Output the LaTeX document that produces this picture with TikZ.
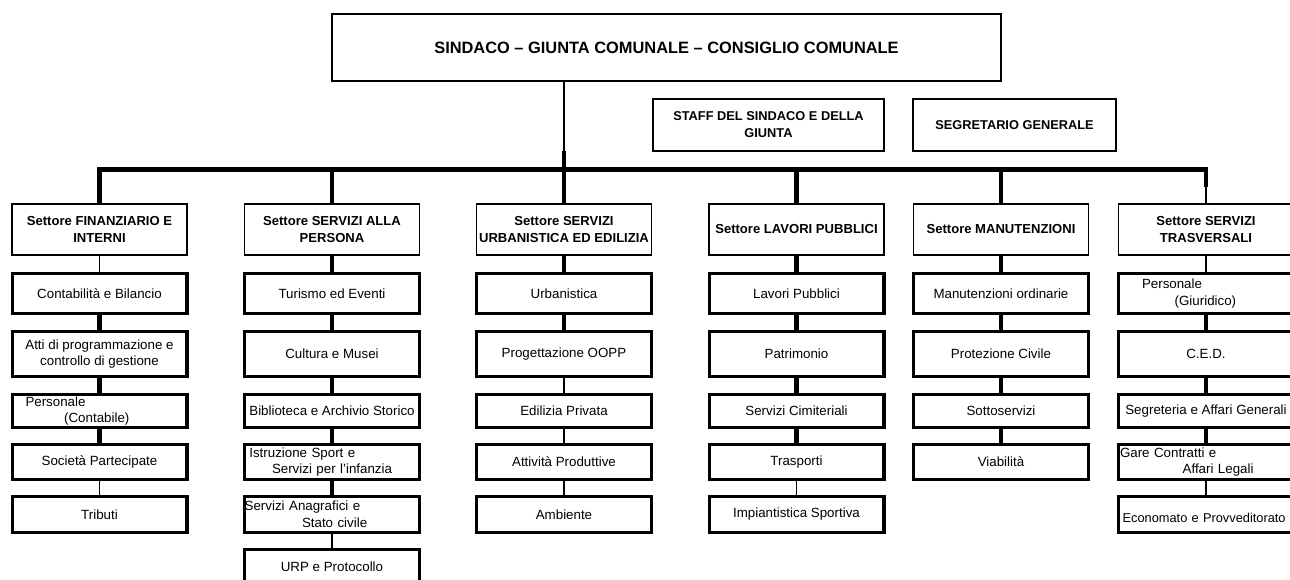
\documentclass[tikz,border=0pt]{standalone}
\usepackage{fontspec}
\setmainfont{Liberation Sans}
\begin{document}
\begin{tikzpicture}[x=0.75pt, y=-0.75pt,
        every node/.style={draw, inner sep=1pt, align=center},
        capo/.style={line width=1.5pt, minimum width=501.75pt, minimum height=50.25pt, font=\fontsize{12.3}{14}\selectfont\bfseries},
        staff/.style={line width=1.4pt, minimum height=39.4pt, font=\fontsize{9.6}{12.75}\selectfont\bfseries},
        settore/.style={line width=1.4pt, minimum width=131.3pt, minimum height=38.3pt, font=\fontsize{9.8}{12.75}\selectfont\bfseries},
        ufficio/.style={line width=2.5pt, minimum width=131pt, font=\fontsize{10}{12.5}\selectfont},
        sinistra/.style={ufficio, inner xsep=0pt, text width=131pt, align=left},
        sottile/.style={line width=1.1pt},
        spessa/.style={line width=3.2pt},
        linea/.style={line width=3.6pt}]
    \clip (0,0) rectangle (1290,580);
    % colonne e righe
    \def \ca {99.5}
    \def \cb {332}
    \def \cc {564}
    \def \cd {796.5}
    \def \ce {1001}
    \def \cf {1206}
    \def \s {229.5}
    \def \ra {293.5}
    \def \rb {354}
    \def \rc {411}
    \def \rd {462}
    \def \re {514.5}
    \def \rf {566.5}
    \def \ha {29.8pt}
    \def \hb {33.5pt}
    \def \hc {24.5pt}
    \def \hd {26pt}
    \def \he {26.8pt}
    \def \hf {25.3pt}
    % vertice
    \node[capo] (capo) at (666.5, 47.5) {SINDACO – GIUNTA COMUNALE – CONSIGLIO COMUNALE};
    \node[staff, minimum width=173.25pt] (staff) at (768.5, 125) {STAFF DEL SINDACO E DELLA\\GIUNTA};
    \node[staff, minimum width=152.25pt] (segr) at (1014.5, 125) {SEGRETARIO GENERALE};
    % settori
    \node[settore] (s1) at (\ca, \s) {Settore FINANZIARIO E\\INTERNI};
    \node[settore] (s2) at (\cb, \s) {Settore SERVIZI ALLA\\PERSONA};
    \node[settore] (s3) at (\cc, \s) {Settore SERVIZI\\URBANISTICA ED EDILIZIA};
    \node[settore] (s4) at (\cd, \s) {Settore LAVORI PUBBLICI};
    \node[settore] (s5) at (\ce, \s) {Settore MANUTENZIONI};
    \node[settore] (s6) at (\cf, \s) {Settore SERVIZI\\TRASVERSALI};
    % uffici
    \node[ufficio, minimum height=\ha] (s1-1) at (\ca, \ra) {Contabilità e Bilancio};
    \node[ufficio, minimum height=\hb] (s1-2) at (\ca, \rb) {Atti di programmazione e\\controllo di gestione};
    \node[sinistra, minimum height=\hc] (s1-3) at (\ca, \rc) {\hspace*{10pt}Personale\\\hspace*{39pt}(Contabile)};
    \node[ufficio, minimum height=\hd] (s1-4) at (\ca, \rd) {Società Partecipate};
    \node[ufficio, minimum height=\he] (s1-5) at (\ca, \re) {Tributi};
    \node[ufficio, minimum height=\ha] (s2-1) at (\cb, \ra) {Turismo ed Eventi};
    \node[ufficio, minimum height=\hb] (s2-2) at (\cb, \rb) {Cultura e Musei};
    \node[ufficio, minimum height=\hc] (s2-3) at (\cb, \rc) {Biblioteca e Archivio Storico};
    \node[sinistra, minimum height=\hd] (s2-4) at (\cb, \rd) {\hspace*{3.5pt}Istruzione Sport e\\\hspace*{20.5pt}Servizi per l'infanzia};
    \node[sinistra, minimum height=\he] (s2-5) at (\cb, \re) {Servizi Anagrafici e\\\hspace*{43pt}Stato civile};
    \node[ufficio, minimum height=\hf] (s2-6) at (\cb, \rf) {URP e Protocollo};
    \node[ufficio, minimum height=\ha] (s3-1) at (\cc, \ra) {Urbanistica};
    \node[ufficio, minimum height=\hb] (s3-2) at (\cc, \rb) {Progettazione OOPP};
    \node[ufficio, minimum height=\hc] (s3-3) at (\cc, \rc) {Edilizia Privata};
    \node[ufficio, minimum height=\hd] (s3-4) at (\cc, \rd) {Attività Produttive};
    \node[ufficio, minimum height=\he] (s3-5) at (\cc, \re) {Ambiente};
    \node[ufficio, minimum height=\ha] (s4-1) at (\cd, \ra) {Lavori Pubblici};
    \node[ufficio, minimum height=\hb] (s4-2) at (\cd, \rb) {Patrimonio};
    \node[ufficio, minimum height=\hc] (s4-3) at (\cd, \rc) {Servizi Cimiteriali};
    \node[ufficio, minimum height=\hd] (s4-4) at (\cd, \rd) {Trasporti};
    \node[ufficio, minimum height=\he] (s4-5) at (\cd, \re) {Impiantistica Sportiva};
    \node[ufficio, minimum height=\ha] (s5-1) at (\ce, \ra) {Manutenzioni ordinarie};
    \node[ufficio, minimum height=\hb] (s5-2) at (\ce, \rb) {Protezione Civile};
    \node[ufficio, minimum height=\hc] (s5-3) at (\ce, \rc) {Sottoservizi};
    \node[ufficio, minimum height=\hd] (s5-4) at (\ce, \rd) {Viabilità};
    \node[sinistra, minimum height=\ha] (s6-1) at (\cf, \ra) {\hspace*{17.5pt}Personale\\\hspace*{42pt}(Giuridico)};
    \node[ufficio, minimum height=\hb] (s6-2) at (\cf, \rb) {C.E.D.};
    \node[ufficio, minimum height=\hc] (s6-3) at (\cf, \rc) {Segreteria e Affari Generali};
    \node[sinistra, minimum height=\hd] (s6-4) at (\cf, \rd) {\hspace*{1pt}Gare Contratti e\\\hspace*{48pt}Affari Legali};
    \node[sinistra, minimum height=\he, font=\fontsize{9.6}{12.5}\selectfont] (s6-5) at (\cf, \re) {\mbox{}\\\hspace*{3pt}\mbox{Economato e Provveditorato}};
    % linea di distribuzione
    \coordinate (k) at (\cc, 151);
    \coordinate (b) at (\cc, 169.5);
    \coordinate (g) at (\cf, 187);
    \draw[sottile] (capo.south -| k) -- (k);
    \draw[linea] (k) -- (s3);
    \draw[linea] (s1) |- (b) -| (g);
    \draw[sottile] (g) -- (s6);
    \draw[linea] (b -| s2) -- (s2);
    \draw[linea] (b -| s4) -- (s4);
    \draw[linea] (b -| s5) -- (s5);
    % colonne
    \draw[sottile] (s1) -- (s1-1);
    \draw[spessa] (s1-1) -- (s1-2);
    \draw[spessa] (s1-2) -- (s1-3);
    \draw[spessa] (s1-3) -- (s1-4);
    \draw[sottile] (s1-4) -- (s1-5);
    \draw[spessa] (s2) -- (s2-1);
    \draw[spessa] (s2-1) -- (s2-2);
    \draw[spessa] (s2-2) -- (s2-3);
    \draw[spessa] (s2-3) -- (s2-4);
    \draw[spessa] (s2-4) -- (s2-5);
    \draw[sottile] (s2-5) -- (s2-6);
    \draw[spessa] (s3) -- (s3-1);
    \draw[spessa] (s3-1) -- (s3-2);
    \draw[sottile] (s3-2) -- (s3-3);
    \draw[sottile] (s3-3) -- (s3-4);
    \draw[sottile] (s3-4) -- (s3-5);
    \draw[spessa] (s4) -- (s4-1);
    \draw[spessa] (s4-1) -- (s4-2);
    \draw[spessa] (s4-2) -- (s4-3);
    \draw[spessa] (s4-3) -- (s4-4);
    \draw[sottile] (s4-4) -- (s4-5);
    \draw[spessa] (s5) -- (s5-1);
    \draw[spessa] (s5-1) -- (s5-2);
    \draw[spessa] (s5-2) -- (s5-3);
    \draw[spessa] (s5-3) -- (s5-4);
    \draw[sottile] (s6) -- (s6-1);
    \draw[spessa] (s6-1) -- (s6-2);
    \draw[spessa] (s6-2) -- (s6-3);
    \draw[spessa] (s6-3) -- (s6-4);
    \draw[sottile] (s6-4) -- (s6-5);
\end{tikzpicture}
\end{document}
